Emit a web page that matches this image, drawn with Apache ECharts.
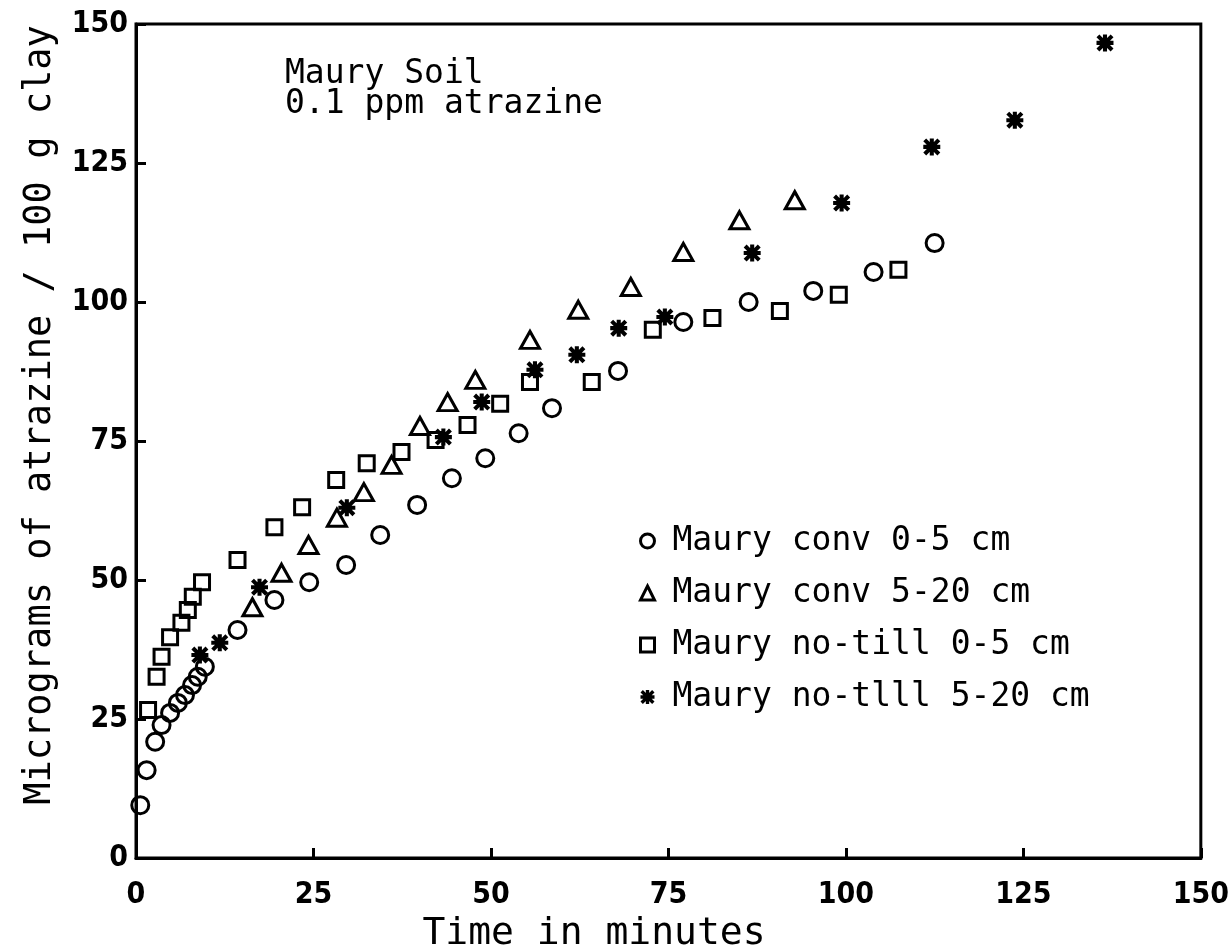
<!DOCTYPE html>
<html>
<head>
<meta charset="utf-8">
<title>Maury Soil - atrazine</title>
<script src="https://cdn.jsdelivr.net/npm/echarts@6/dist/echarts.min.js"></script>
<style>
	html,body{margin:0;padding:0;background:#fff;}
	#chart{width:1232px;height:951px;}
</style>
</head>
<body>
<div id="chart"></div>
<script>
// values (time in minutes / micrograms per 100 g clay)
var convTopX = [0.6,1.5,2.7,3.6,4.8,5.9,6.9,7.9,8.7,9.7,14.3,19.5,24.4,29.6,34.4,39.6,44.5,49.2,53.9,58.6,67.9,77.1,86.3,95.4,103.9,112.5];
var convTopY = [9.5,15.8,20.9,23.9,26.1,27.9,29.3,31.1,32.6,34.4,41.0,46.4,49.6,52.7,58.1,63.5,68.3,71.9,76.4,80.9,87.6,96.4,100.0,102.0,105.4,110.6];

var convSubX = [16.4,20.5,24.3,28.3,32.1,36.0,40.0,43.9,47.8,55.5,62.3,69.7,77.1,85.0,92.8];
var convSubY = [45.1,51.3,56.3,61.2,65.8,70.7,77.7,82.0,86.0,93.2,98.6,102.7,109.0,114.7,118.3];

var noTillTopX = [1.7,2.9,3.6,4.8,6.4,7.3,8.0,9.3,14.3,19.5,23.4,28.2,32.5,37.4,42.2,46.7,51.3,55.5,64.2,72.8,81.2,90.7,99.0,107.4];
var noTillTopY = [26.6,32.6,36.2,39.7,42.3,44.6,47.0,49.6,53.6,59.5,63.1,68.0,71.0,73.0,75.2,77.9,81.7,85.6,85.6,95.0,97.1,98.4,101.3,105.8];

var noTillSubX = [9.0,11.8,17.4,29.7,43.3,48.7,56.2,62.1,68.0,74.5,86.8,99.4,112.1,123.8,136.5];
var noTillSubY = [36.5,38.7,48.7,63.0,75.7,82.0,87.8,90.5,95.3,97.3,108.8,117.8,127.9,132.7,146.6];

var seriesNames = ["Maury conv 0-5 cm","Maury conv 5-20 cm","Maury no-till 0-5 cm","Maury no-tlll 5-20 cm"];
var titleLines = ["Maury Soil","0.1 ppm atrazine"];
var xTicks = [0,25,50,75,100,125,150];
var yTicks = [0,25,50,75,100,125,150];

var monoFont = "'DejaVu Sans Mono', 'Liberation Mono', monospace";
var tickFont = "'DejaVu Sans Condensed', 'Liberation Sans Narrow', 'DejaVu Sans', sans-serif";

// eight armed star like the plotter asterisk
var starPath = "path://M3.8,0L6.2,0L6.2,10L3.8,10Z M0,3.8L10,3.8L10,6.2L0,6.2Z M0,1.7L1.7,0L10,8.3L8.3,10Z M8.3,0L10,1.7L1.7,10L0,8.3Z";

function pairs(xs, ys){
	var out = [];
	for(var i=0,n=xs.length;i<n;i++){
		out.push([xs[i], ys[i]]);
	}
	return out;
}

var hollow = {color:'rgba(255,255,255,0)', borderColor:'#000', borderWidth:3, opacity:1};
var solid = {color:'#000', borderWidth:0, opacity:1};

function legendData(){
	var out = [];
	for(var i=0,n=seriesNames.length;i<n;i++){
		out.push({name:seriesNames[i], itemStyle: i==3 ? solid : hollow});
	}
	return out;
}

function initChart(){
	var mycharts = echarts.init(document.getElementById('chart'));
	var option = {
		animation : false,
		backgroundColor : '#fff',
		grid : {
			left : 136, right : 25, top : 24, bottom : 93,
			show : true, borderColor : '#000', borderWidth : 3
		},
		legend : {
			orient : 'vertical',
			left : 634,
			top : 516,
			itemWidth : 14,
			itemHeight : 14,
			itemGap : 12,
			textStyle : {
				color : '#000',
				fontFamily : monoFont,
				fontSize : 33,
				lineHeight : 40,
				padding : [0,0,0,13]
			},
			data : legendData()
		},
		xAxis : {
			type : 'value',
			min : xTicks[0],
			max : xTicks[xTicks.length-1],
			interval : xTicks[1]-xTicks[0],
			axisLine : {lineStyle : {color:'#000', width:3}},
			axisTick : {inside:true, length:10, lineStyle:{color:'#000', width:3}},
			splitLine : {show:false},
			axisLabel : {color:'#000', fontFamily:tickFont, fontWeight:'bold', fontSize:30, margin:22}
		},
		yAxis : {
			type : 'value',
			min : yTicks[0],
			max : yTicks[yTicks.length-1],
			interval : yTicks[1]-yTicks[0],
			axisLine : {lineStyle : {color:'#000', width:3}},
			axisTick : {inside:true, length:10, lineStyle:{color:'#000', width:3}},
			splitLine : {show:false},
			axisLabel : {color:'#000', fontFamily:tickFont, fontWeight:'bold', fontSize:30, margin:8}
		},
		graphic : [
			{type:'text', left:285, top:58, style:{text:titleLines[0], fill:'#000', fontFamily:monoFont, fontSize:33}},
			{type:'text', left:285, top:88, style:{text:titleLines[1], fill:'#000', fontFamily:monoFont, fontSize:33}},
			{type:'text', x:594, y:934, style:{text:'Time in minutes', fill:'#000', fontFamily:monoFont, fontSize:38, align:'center', verticalAlign:'middle'}},
			{type:'text', x:40, y:415, rotation:Math.PI/2, style:{text:'Micrograms of atrazine / 100 g clay', fill:'#000', fontFamily:monoFont, fontSize:37, align:'center', verticalAlign:'middle'}}
		],
		series : [
			{name:seriesNames[0], type:'scatter', symbol:'circle', symbolSize:17, itemStyle:hollow, data:pairs(convTopX, convTopY)},
			{name:seriesNames[1], type:'scatter', symbol:'triangle', symbolSize:[19,17], itemStyle:hollow, data:pairs(convSubX, convSubY)},
			{name:seriesNames[2], type:'scatter', symbol:'rect', symbolSize:15, itemStyle:hollow, data:pairs(noTillTopX, noTillTopY)},
			{name:seriesNames[3], type:'scatter', symbol:starPath, symbolSize:17, itemStyle:solid, data:pairs(noTillSubX, noTillSubY)}
		]
	};
	mycharts.setOption(option);
}

initChart();
</script>
</body>
</html>
